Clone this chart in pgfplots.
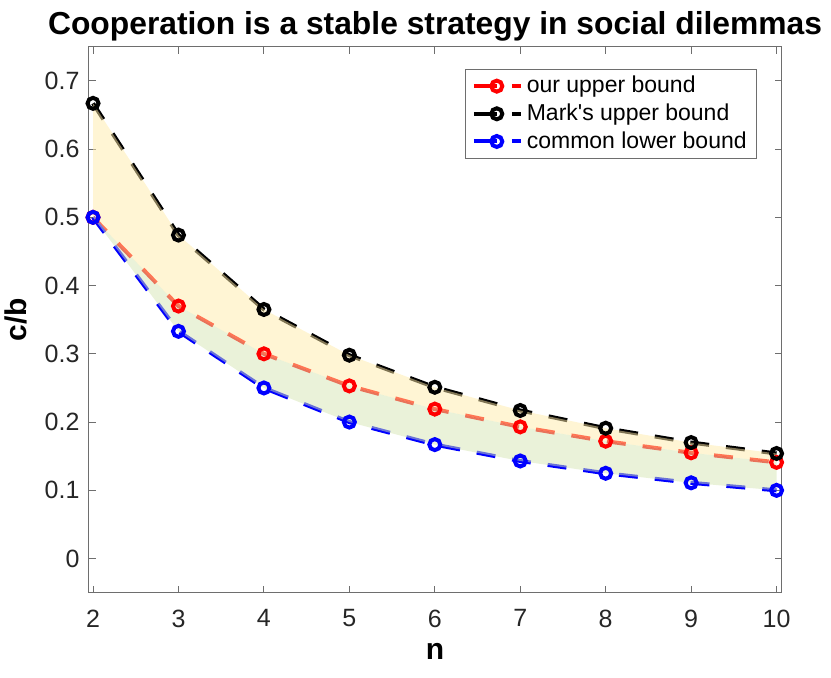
\documentclass[border=0pt]{standalone}
\usepackage{pgfplots}
\pgfplotsset{compat=1.18}
\usepackage{fontspec}
\setmainfont{Liberation Sans}
\definecolor{axgray}{RGB}{110,110,110}
\definecolor{txtgray}{RGB}{38,38,38}
\definecolor{fyel}{RGB}{255,235,169}
\definecolor{fgrn}{RGB}{213,229,179}
\begin{document}
\begin{tikzpicture}
\begin{axis}[name=ax, at={(0,0)}, anchor=south west,
  scale only axis, width=346.6pt, height=273pt,
  xmin=1.947, xmax=10.06, ymin=-0.05, ymax=0.75,
  xtick={2,...,10}, ytick={0,0.1,...,0.7},
  yticklabel style={/pgf/number format/fixed,/pgf/number format/precision=1},
  /pgf/number format/assume math mode=true,
  tick align=inside, major tick length=3.5pt,
  axis line style={axgray, line width=0.5pt},
  every tick/.style={axgray, line width=0.5pt},
  tick label style={font=\fontsize{12.5}{14}\selectfont, text=txtgray},
  xticklabel style={yshift=-5pt},
  yticklabel style={xshift=-1pt},
  title={\textbf{Cooperation is a stable strategy in social dilemmas}},
  title style={font=\fontsize{15.9}{18}\selectfont, yshift=-7pt},
  xlabel={\textbf{n}}, ylabel={\textbf{c/b}},
  label style={font=\fontsize{15}{17}\selectfont},
  xlabel style={yshift=-1pt},
  ylabel style={yshift=2pt},
  legend style={at={(rel axis cs:1,1)}, xshift=-12.3pt, yshift=-11.1pt, anchor=north east,
    draw=axgray, line width=0.4pt, font=\fontsize{11.5}{13}\selectfont,
    row sep=0pt, inner xsep=3pt, inner ysep=1.5pt},
  legend cell align=left,
  every axis plot/.append style={line width=2pt, dash pattern=on 9.5pt off 8.5pt},
  legend image code/.code={
    \draw[#1, solid, mark=none] (0pt,0pt) -- (11.5pt,0pt);
    \draw[#1, solid, mark=none] (19pt,0pt) -- (23.5pt,0pt);
    \draw[#1, only marks] plot coordinates {(11.5pt,0pt)};
  },
]
\addplot[red, mark=o, mark size=2.75pt, mark options={solid}] coordinates {
(2,0.5) (3,0.37) (4,0.30) (5,0.253) (6,0.219) (7,0.193) (8,0.172) (9,0.155) (10,0.141)};
\addlegendentry{our upper bound}
\addplot[black, mark=o, mark size=2.75pt, mark options={solid}] coordinates {
(2,0.667) (3,0.474) (4,0.365) (5,0.298) (6,0.251) (7,0.217) (8,0.191) (9,0.170) (10,0.154)};
\addlegendentry{Mark\textquotesingle s upper bound}
\addplot[blue, mark=o, mark size=2.75pt, mark options={solid}] coordinates {
(2,0.5) (3,0.333) (4,0.25) (5,0.2) (6,0.167) (7,0.143) (8,0.125) (9,0.111) (10,0.1)};
\addlegendentry{common lower bound}
\addplot[draw=none, solid, fill=fyel, fill opacity=0.5, mark=none, forget plot] coordinates {
(2,0.667) (3,0.474) (4,0.365) (5,0.298) (6,0.251) (7,0.217) (8,0.191) (9,0.170) (10,0.154)
(10,0.141) (9,0.155) (8,0.172) (7,0.193) (6,0.219) (5,0.253) (4,0.30) (3,0.37) (2,0.5)} -- cycle;
\addplot[draw=none, solid, fill=fgrn, fill opacity=0.5, mark=none, forget plot] coordinates {
(2,0.5) (3,0.37) (4,0.30) (5,0.253) (6,0.219) (7,0.193) (8,0.172) (9,0.155) (10,0.141)
(10,0.1) (9,0.111) (8,0.125) (7,0.143) (6,0.167) (5,0.2) (4,0.25) (3,0.333) (2,0.5)} -- cycle;
\end{axis}
\pgfresetboundingbox
\path[use as bounding box] ([shift={(-44.25pt,-42.15pt)}]ax.south west) rectangle ([shift={(371.25pt,296.35pt)}]ax.south west);
\end{tikzpicture}
\end{document}
